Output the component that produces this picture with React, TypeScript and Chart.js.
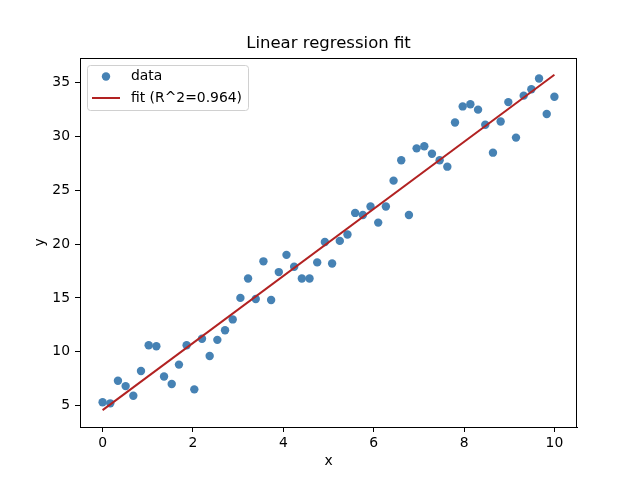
import { useRef, useEffect } from "react";
import { Chart, registerables } from "chart.js";

Chart.register(...registerables);

// scatter samples
const xValues = [
  0.0, 0.17, 0.34, 0.51, 0.68, 0.85, 1.02, 1.19, 1.36, 1.53,
  1.69, 1.86, 2.03, 2.2, 2.37, 2.54, 2.71, 2.88, 3.05, 3.22,
  3.39, 3.56, 3.73, 3.9, 4.07, 4.24, 4.41, 4.58, 4.75, 4.92,
  5.08, 5.25, 5.42, 5.59, 5.76, 5.93, 6.1, 6.27, 6.44, 6.61,
  6.78, 6.95, 7.12, 7.29, 7.46, 7.63, 7.8, 7.97, 8.14, 8.31,
  8.47, 8.64, 8.81, 8.98, 9.15, 9.32, 9.49, 9.66, 9.83, 10.0,
];
const yValues = [
  5.3, 5.2, 7.3, 6.8, 5.9, 8.2, 10.6, 10.5, 7.7, 7.0,
  8.8, 10.6, 6.5, 11.2, 9.6, 11.1, 12.0, 13.0, 15.0, 16.8,
  14.9, 18.4, 14.8, 17.4, 19.0, 17.9, 16.8, 16.8, 18.3, 20.2,
  18.2, 20.3, 20.9, 22.9, 22.7, 23.5, 22.0, 23.5, 25.9, 27.8,
  22.7, 28.9, 29.1, 28.4, 27.8, 27.2, 31.3, 32.8, 33.0, 32.5,
  31.1, 28.5, 31.4, 33.2, 29.9, 33.8, 34.4, 35.4, 32.1, 33.7,
];
// fitted line end points
const fitX = [0, 10];
const fitY = [4.57, 35.74];

const xTicks = [0, 2, 4, 6, 8, 10];
const yTicks = [5, 10, 15, 20, 25, 30, 35];

const TITLE = "Linear regression fit";
const X_LABEL = "x";
const Y_LABEL = "y";
const LEGEND_LABELS = ["data", "fit (R^2=0.964)"];

const FONT = "'DejaVu Sans', sans-serif";
const BLUE = "#4682b4";
const RED = "#b22222";

const decor = {
  id: "decor",
  afterDraw(chart: Chart) {
    const { ctx, chartArea } = chart;
    const { left, right, top, bottom } = chartArea;
    ctx.save();
    // frame
    ctx.strokeStyle = "#000";
    ctx.lineWidth = 1;
    ctx.strokeRect(left + 0.5, top + 0.5, right - left - 1, bottom - top);

    ctx.fillStyle = "#000";
    ctx.textAlign = "center";
    ctx.textBaseline = "middle";
    ctx.font = `16.5px ${FONT}`;
    ctx.fillText(TITLE, (left + right) / 2, 44);

    ctx.font = `13.9px ${FONT}`;
    ctx.fillText(X_LABEL, (left + right) / 2, 461);
    ctx.save();
    ctx.translate(40, (top + bottom) / 2);
    ctx.rotate(-Math.PI / 2);
    ctx.fillText(Y_LABEL, 0, 0);
    ctx.restore();

    // legend box
    const bx = 87.5, by = 65.5, bw = 161, bh = 45;
    ctx.fillStyle = "rgba(255,255,255,0.8)";
    ctx.strokeStyle = "#d0d0d0";
    ctx.beginPath();
    ctx.roundRect(bx, by, bw, bh, 3);
    ctx.fill();
    ctx.stroke();

    ctx.fillStyle = BLUE;
    ctx.beginPath();
    ctx.arc(106, 76.5, 4.2, 0, Math.PI * 2);
    ctx.fill();

    ctx.strokeStyle = RED;
    ctx.lineWidth = 2;
    ctx.beginPath();
    ctx.moveTo(92, 98);
    ctx.lineTo(120, 98);
    ctx.stroke();

    ctx.fillStyle = "#000";
    ctx.textAlign = "left";
    ctx.font = `13.9px ${FONT}`;
    ctx.fillText(LEGEND_LABELS[0], 131, 76);
    ctx.fillText(LEGEND_LABELS[1], 131, 98);
    ctx.restore();
  },
};

export default function App() {
  const canvasRef = useRef<HTMLCanvasElement>(null);

  useEffect(() => {
    if (!canvasRef.current) return;
    const chart = new Chart(canvasRef.current, {
      type: "scatter",
      data: {
        datasets: [
          {
            label: LEGEND_LABELS[0],
            data: xValues.map((x, i) => ({ x, y: yValues[i] })),
            backgroundColor: BLUE,
            borderWidth: 0,
            pointRadius: 4.2,
            order: 2,
          },
          {
            label: LEGEND_LABELS[1],
            type: "line",
            data: fitX.map((x, i) => ({ x, y: fitY[i] })),
            borderColor: RED,
            borderWidth: 2,
            pointRadius: 0,
            showLine: true,
            order: 1,
          },
        ],
      },
      options: {
        responsive: false,
        animation: false,
        layout: { padding: { top: 58, right: 63, left: 0, bottom: 0 } },
        plugins: {
          legend: { display: false },
          title: { display: false },
          tooltip: { enabled: false },
        },
        scales: {
          x: {
            type: "linear",
            min: -0.5,
            max: 10.5,
            afterBuildTicks: (s: any) => {
              s.ticks = xTicks.map((v) => ({ value: v }));
            },
            afterFit: (s: any) => {
              s.height = 53;
            },
            grid: {
              drawOnChartArea: false,
              drawTicks: true,
              tickLength: 5,
              color: "#000",
            },
            border: { display: true, color: "#000" },
            ticks: {
              color: "#000",
              font: { family: FONT, size: 13.9 },
              padding: 3,
              maxRotation: 0,
            },
          },
          y: {
            type: "linear",
            min: 3.0,
            max: 37.3,
            afterBuildTicks: (s: any) => {
              s.ticks = yTicks.map((v) => ({ value: v }));
            },
            afterFit: (s: any) => {
              s.width = 80;
            },
            grid: {
              drawOnChartArea: false,
              drawTicks: true,
              tickLength: 5,
              color: "#000",
            },
            border: { display: true, color: "#000" },
            ticks: {
              color: "#000",
              font: { family: FONT, size: 13.9 },
              padding: 5,
            },
          },
        },
      },
      plugins: [decor],
    });
    return () => chart.destroy();
  }, []);

  return (
    <div style={{ position: "fixed", left: 0, top: 0, width: 640, height: 480, background: "#fff" }}>
      <canvas ref={canvasRef} width={640} height={480} />
    </div>
  );
}
